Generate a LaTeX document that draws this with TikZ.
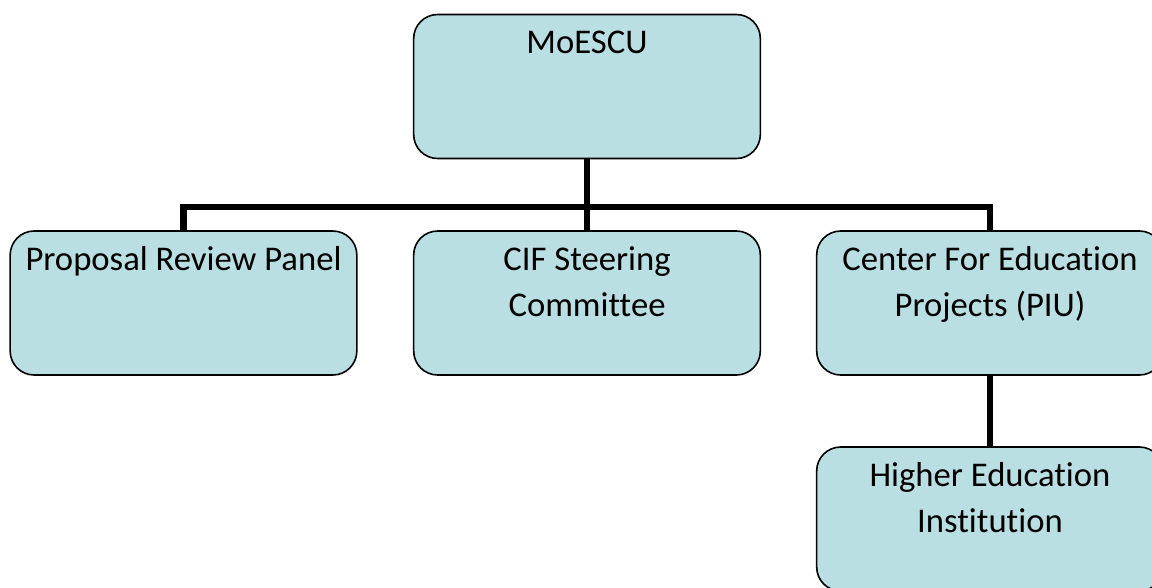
\documentclass[tikz,border=0pt]{standalone}
\usepackage{fontspec}
\setmainfont{Carlito}[Ligatures=NoCommon]
\usetikzlibrary{positioning}
\definecolor{paleblue}{RGB}{185,223,227}
\newcommand{\boxlines}[1]{\begin{tabular}[t]{@{}c@{}}#1\end{tabular}}
\tikzstyle{box} = [draw=black, line width=1.2pt, fill=paleblue, rounded corners=18pt, minimum width=260pt, minimum height=108pt, inner sep=0pt]
\tikzstyle{boxtext} = [anchor=base, yshift=-30pt, inner sep=0pt, font=\fontsize{26}{34.5}\selectfont]
\tikzstyle{conn} = [line width=4.6pt, line join=miter]

\begin{document}
\begin{tikzpicture}[x=0.75pt,y=-0.75pt]
\useasboundingbox (0,0) rectangle (1152,587);
\clip (0,0) rectangle (1152,587);
\node (moescu) [box, label={[boxtext]north:MoESCU}] at (587,86.5) {};
\node (panel) [box, label={[boxtext]north:Proposal Review Panel}] at (183.5,303) {};
\node (cif) [box, label={[boxtext]north:{\boxlines{CIF Steering\\Committee}}}] at (587,303) {};
\node (cep) [box, label={[boxtext]north:{\boxlines{Center For Education\\Projects (PIU)}}}] at (990,303) {};
\node (hei) [box, label={[boxtext]north:{\boxlines{Higher Education\\Institution}}}] at (990,519) {};
\coordinate (bus) at (587,207);
\draw[conn] (moescu.south) -- (bus);
\draw[conn] (bus) -| (panel.north);
\draw[conn] (bus) -| (cep.north);
\draw[conn] (bus) -- (cif.north);
\draw[conn] (cep.south) -- (hei.north);
\end{tikzpicture}
\end{document}
